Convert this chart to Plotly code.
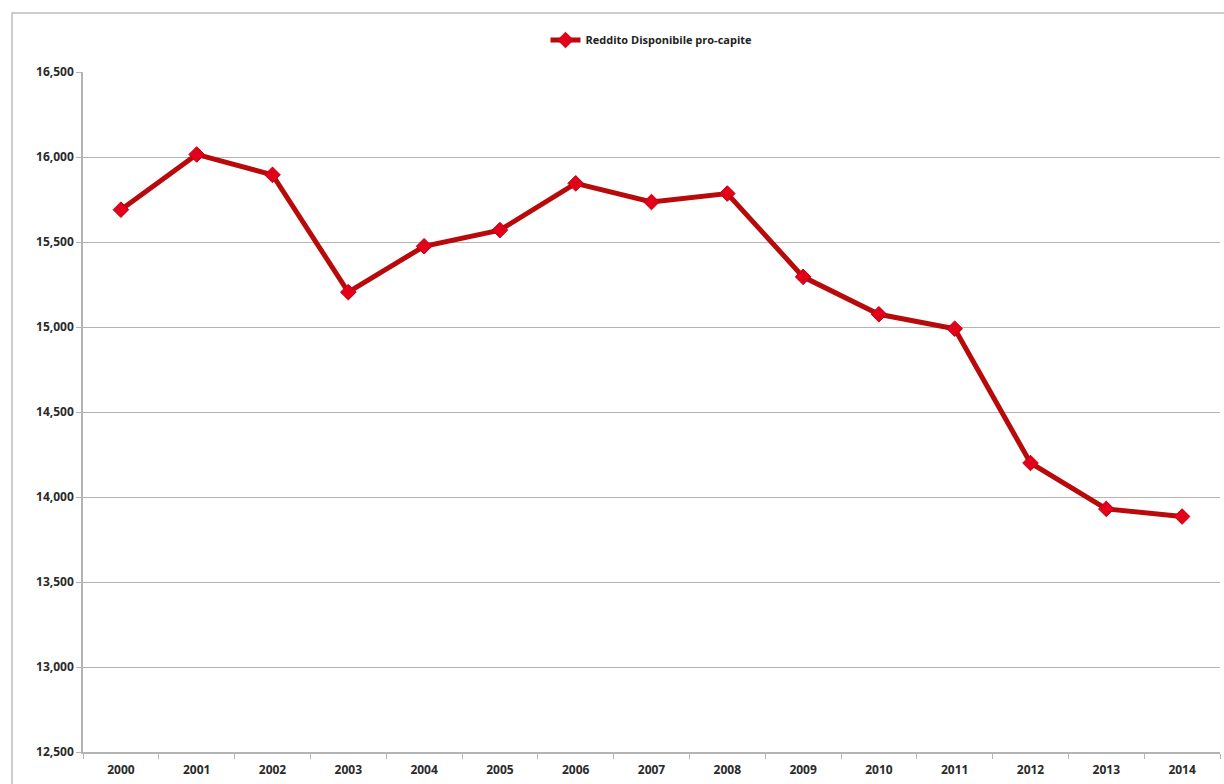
import plotly.graph_objects as go

# Reddito disponibile pro-capite, 2000-2014
years = ["2000", "2001", "2002", "2003", "2004", "2005", "2006", "2007",
         "2008", "2009", "2010", "2011", "2012", "2013", "2014"]
reddito = [15690, 16015, 15895, 15205, 15475, 15570, 15845, 15735,
           15785, 15295, 15075, 14990, 14200, 13930, 13885]

y_ticks = [12500, 13000, 13500, 14000, 14500, 15000, 15500, 16000, 16500]

font_family = "Open Sans, DejaVu Sans, sans-serif"
grey = "#B4B4B4"
tick_font = dict(family=font_family, size=12, color="#2A2A2A", weight="bold")

fig = go.Figure()
fig.add_trace(go.Scatter(
    x=years,
    y=reddito,
    mode="lines+markers",
    name="Reddito Disponibile pro-capite",
    line=dict(color="#B80A0A", width=5),
    marker=dict(symbol="diamond", size=12, color="#E2001A",
                line=dict(color="#C00010", width=1)),
))

fig.update_layout(
    width=1224,
    height=784,
    margin=dict(l=83, r=4, t=72, b=32),
    paper_bgcolor="white",
    plot_bgcolor="white",
    font=dict(family=font_family, size=11, color="#222222"),
    showlegend=True,
    legend=dict(
        orientation="h",
        x=0.5, xanchor="center",
        y=1.047, yanchor="middle",
        font=dict(family=font_family, size=11, color="#222222", weight="bold"),
        bgcolor="rgba(0,0,0,0)",
        itemwidth=30,
    ),
    xaxis=dict(
        type="category",
        tickson="boundaries",
        ticks="outside",
        ticklen=5,
        tickcolor=grey,
        showline=True,
        linecolor=grey,
        linewidth=1.5,
        showgrid=False,
        tickfont=tick_font,
        ticklabelstandoff=6,
        range=[-0.5, 14.5],
    ),
    yaxis=dict(
        range=[12500, 16500],
        tickvals=y_ticks,
        tickformat=",",
        ticks="outside",
        ticklen=5,
        tickcolor=grey,
        showline=True,
        linecolor=grey,
        linewidth=1.5,
        showgrid=True,
        gridcolor=grey,
        gridwidth=1,
        zeroline=False,
        tickfont=tick_font,
    ),
    shapes=[
        dict(type="rect", xref="paper", yref="paper",
             x0=-0.0624, x1=1.2, y0=-0.2, y1=1.0868,
             line=dict(color="#BDBDBD", width=1.5), layer="below"),
    ],
)

fig.write_html("out.html")
